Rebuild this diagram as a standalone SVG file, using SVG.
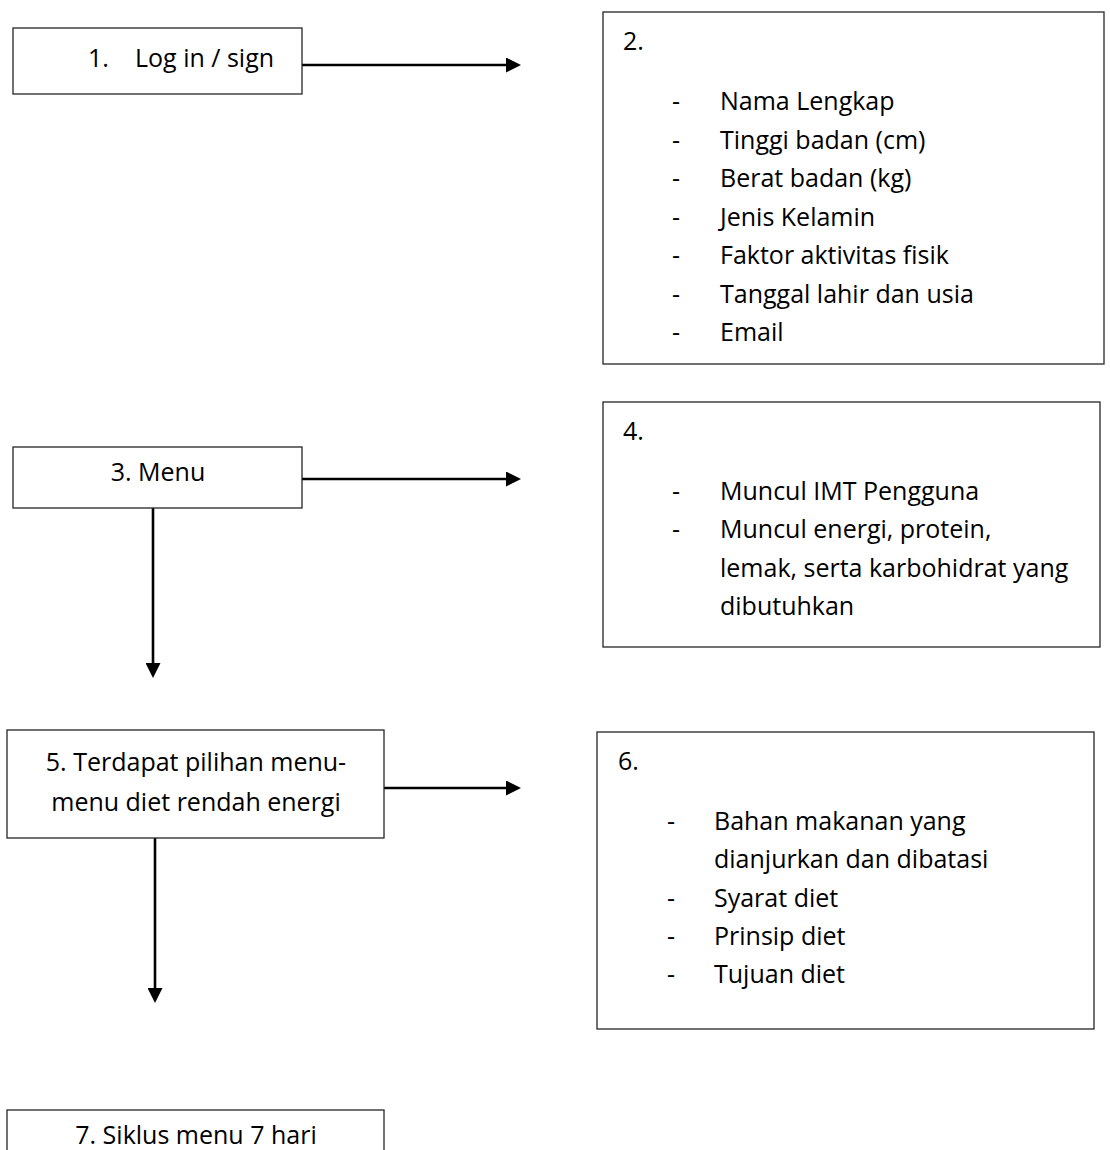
<svg xmlns="http://www.w3.org/2000/svg" width="1110" height="1150" viewBox="0 0 1110 1150">
  <style>
    .box { fill: #ffffff; stroke: #262626; stroke-width: 1.3; }
    .t { font-family: "Open Sans", "Noto Sans", "Liberation Sans", sans-serif; font-size: 25px; fill: #000000; }
    .mid { text-anchor: middle; }
    .conn { stroke: #000000; stroke-width: 2.6; fill: none; marker-end: url(#arrow); }
  </style>
  <defs>
    <marker id="arrow" viewBox="0 0 15 15" refX="8" refY="7.5" markerWidth="15" markerHeight="15" markerUnits="userSpaceOnUse" orient="auto">
      <path d="M0,0 L15,7.5 L0,15 z" fill="#000000"/>
    </marker>
  </defs>
  <rect width="1110" height="1150" fill="#ffffff"/>

  <g id="connectors">
    <line class="conn" x1="302" y1="65" x2="514" y2="65"/>
    <line class="conn" x1="302" y1="479" x2="514" y2="479"/>
    <line class="conn" x1="153" y1="508" x2="153" y2="671"/>
    <line class="conn" x1="384" y1="788" x2="514" y2="788"/>
    <line class="conn" x1="155" y1="838" x2="155" y2="996"/>
  </g>

  <g id="node1">
    <rect class="box" x="13" y="28" width="289" height="66"/>
    <text class="t" x="88" y="67">1.</text>
    <text class="t" x="135" y="67">Log in / sign</text>
  </g>

  <g id="node2">
    <rect class="box" x="603" y="12" width="501" height="352"/>
    <text class="t" x="623" y="50">2.</text>
    <g class="t">
      <text x="672" y="110">-</text><text x="720" y="110">Nama Lengkap</text>
      <text x="672" y="149">-</text><text x="720" y="149">Tinggi badan (cm)</text>
      <text x="672" y="187">-</text><text x="720" y="187">Berat badan (kg)</text>
      <text x="672" y="226">-</text><text x="720" y="226">Jenis Kelamin</text>
      <text x="672" y="264">-</text><text x="720" y="264">Faktor aktivitas fisik</text>
      <text x="672" y="303">-</text><text x="720" y="303">Tanggal lahir dan usia</text>
      <text x="672" y="341">-</text><text x="720" y="341">Email</text>
    </g>
  </g>

  <g id="node3">
    <rect class="box" x="13" y="447" width="289" height="61"/>
    <text class="t mid" x="158" y="481">3. Menu</text>
  </g>

  <g id="node4">
    <rect class="box" x="603" y="402" width="497" height="245"/>
    <text class="t" x="623" y="440">4.</text>
    <g class="t">
      <text x="672" y="500">-</text><text x="720" y="500">Muncul IMT Pengguna</text>
      <text x="672" y="538">-</text><text x="720" y="538">Muncul energi, protein,</text>
      <text x="720" y="577">lemak, serta karbohidrat yang</text>
      <text x="720" y="615">dibutuhkan</text>
    </g>
  </g>

  <g id="node5">
    <rect class="box" x="7" y="730" width="377" height="108"/>
    <text class="t mid" x="196" y="771">5. Terdapat pilihan menu-</text>
    <text class="t mid" x="196" y="811">menu diet rendah energi</text>
  </g>

  <g id="node6">
    <rect class="box" x="597" y="732" width="497" height="297"/>
    <text class="t" x="618" y="770">6.</text>
    <g class="t">
      <text x="667" y="830">-</text><text x="714" y="830">Bahan makanan yang</text>
      <text x="714" y="868">dianjurkan dan dibatasi</text>
      <text x="667" y="907">-</text><text x="714" y="907">Syarat diet</text>
      <text x="667" y="945">-</text><text x="714" y="945">Prinsip diet</text>
      <text x="667" y="983">-</text><text x="714" y="983">Tujuan diet</text>
    </g>
  </g>

  <g id="node7">
    <rect class="box" x="7" y="1110" width="377" height="60"/>
    <text class="t mid" x="196" y="1144">7. Siklus menu 7 hari</text>
  </g>
</svg>
